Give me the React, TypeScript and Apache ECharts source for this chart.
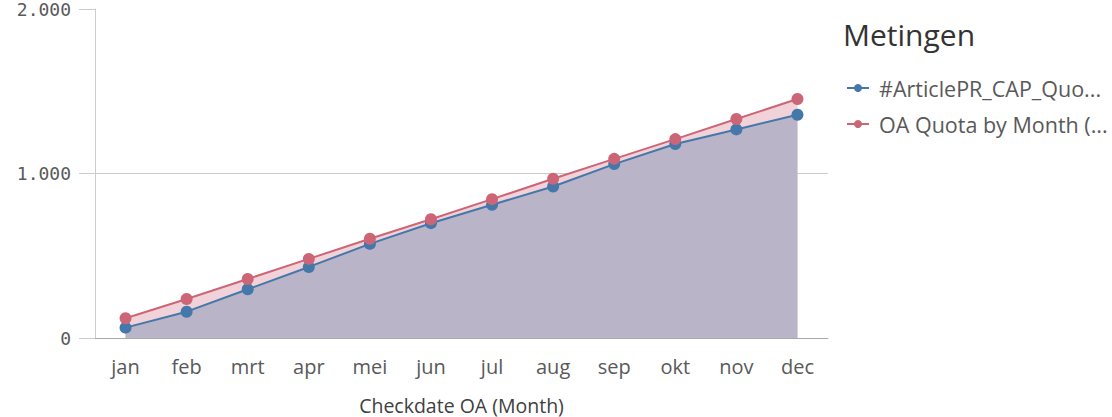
import React, { useEffect, useRef } from "react";
import * as echarts from "echarts";

const months = ["jan", "feb", "mrt", "apr", "mei", "jun", "jul", "aug", "sep", "okt", "nov", "dec"];
const articleValues = [63, 160, 296, 432, 572, 698, 810, 921, 1057, 1179, 1268, 1357];
const quotaValues = [120, 237, 359, 481, 603, 722, 844, 968, 1089, 1209, 1331, 1453];
const seriesNames = ["#ArticlePR_CAP_Quo...", "OA Quota by Month (..."];
const yTicks = [0, 1000, 2000];

export default function App() {
  const ref = useRef<HTMLDivElement>(null);
  useEffect(() => {
    if (!ref.current) return;
    const chart = echarts.init(ref.current, null, { renderer: "svg" });
    chart.setOption({
      animation: false,
      grid: { left: 95, right: 284, top: 9, bottom: 79, containLabel: false, outerBoundsMode: "none" },
      legend: {
        orient: "vertical",
        left: 841,
        top: 72,
        itemWidth: 22,
        itemHeight: 10,
        itemGap: 14,
        textStyle: { fontFamily: "Open Sans", fontSize: 21.5, color: "#595959", padding: [0, 0, 0, 5] },
        data: seriesNames,
      },
      graphic: [
        {
          type: "text",
          left: 843,
          top: 19,
          style: { text: "Metingen", fontFamily: "Open Sans", fontSize: 30, fill: "#333333" },
        },
      ],
      xAxis: {
        type: "category",
        data: months,
        boundaryGap: true,
        name: "Checkdate OA (Month)",
        nameLocation: "middle",
        nameGap: 57,
        nameTextStyle: { fontFamily: "Open Sans", fontSize: 19.5, color: "#404040", lineHeight: 20, verticalAlign: "top" },
        axisLine: { lineStyle: { color: "#a9a9a9", width: 1 } },
        axisTick: { show: false },
        axisLabel: { fontFamily: "Open Sans", fontSize: 20, color: "#595959", margin: 18 },
      },
      yAxis: {
        type: "value",
        min: 0,
        max: 2000,
        interval: 1000,
        axisLine: { show: true, lineStyle: { color: "#cccccc" } },
        axisTick: { show: true, length: 16, lineStyle: { color: "#cccccc" } },
        splitLine: { show: true, showMaxLine: false, lineStyle: { color: "#cccccc" } },
        axisLabel: {
          fontFamily: "DejaVu Sans Mono",
          fontSize: 18,
          color: "#595959",
          margin: 24,
          formatter: (v: number) => (yTicks.includes(v) ? v.toLocaleString("de-DE") : ""),
        },
      },
      series: [
        {
          name: "quota-area",
          type: "line",
          data: quotaValues,
          z: 1,
          symbol: "none",
          lineStyle: { width: 0, opacity: 0 },
          areaStyle: { color: "#f1d2d8", opacity: 1 },
          silent: true,
        },
        {
          name: seriesNames[0],
          type: "line",
          data: articleValues,
          z: 2,
          symbol: "circle",
          symbolSize: 12,
          lineStyle: { color: "#4477aa", width: 2 },
          itemStyle: { color: "#4477aa" },
          areaStyle: { color: "#b9b4c7", opacity: 1 },
        },
        {
          name: seriesNames[1],
          type: "line",
          data: quotaValues,
          z: 3,
          symbol: "circle",
          symbolSize: 12,
          lineStyle: { color: "#cc6677", width: 2 },
          itemStyle: { color: "#cc6677" },
        },
      ],
    });
    return () => chart.dispose();
  }, []);
  return <div ref={ref} style={{ width: 1112, height: 417, position: "absolute", left: 0, top: 0 }} />;
}
